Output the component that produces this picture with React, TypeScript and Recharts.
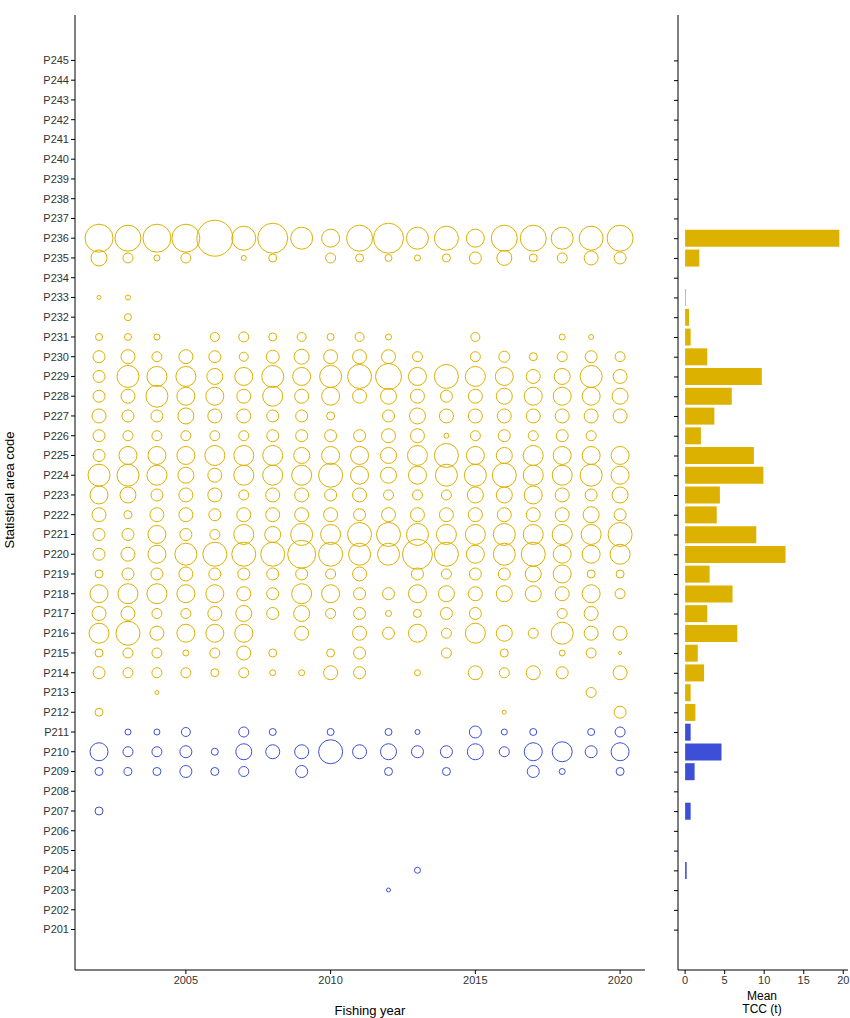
import { ScatterChart, Scatter, BarChart, Bar, XAxis, YAxis, Cell } from "recharts";

// statistical area codes, bottom to top
const codes = Array.from({ length: 45 }, (_, i) => `P${201 + i}`);
const years = [2002, 2003, 2004, 2005, 2006, 2007, 2008, 2009, 2010, 2011, 2012, 2013, 2014, 2015, 2016, 2017, 2018, 2019, 2020];

// estimated bubble radius (px) per area, one entry per fishing year
const goldRows: Record<string, number[]> = {
  P236: [14, 13, 14, 14, 18, 12, 15, 11, 9, 13, 15, 11, 12, 9, 13, 13, 11, 12, 13],
  P235: [8, 5, 3, 5, 0, 2.5, 4, 0, 5, 4, 3.5, 3, 4, 6, 7.5, 4, 5, 7, 6],
  P233: [2, 2.5, 0, 0, 0, 0, 0, 0, 0, 0, 0, 0, 0, 0, 0, 0, 0, 0, 0],
  P232: [0, 3.5, 0, 0, 0, 0, 0, 0, 0, 0, 0, 0, 0, 0, 0, 0, 0, 0, 0],
  P231: [3.5, 3.5, 3, 0, 4.5, 5, 4, 4.5, 3.5, 4.5, 3, 0, 0, 4.5, 0, 0, 3, 2.5, 0],
  P230: [6, 7, 5, 7, 6, 4.5, 6.5, 7.5, 7, 7, 7, 5, 0, 5, 5.5, 4, 5, 6, 5],
  P229: [6, 11, 10, 10, 8, 9, 11, 9, 11, 12, 13, 9, 12, 10, 9, 7, 8, 11, 7],
  P228: [6, 7, 11, 9, 9, 7, 10, 7, 9, 7, 8, 7, 6, 7, 8, 9, 9, 9, 8],
  P227: [7, 6, 6, 8, 7, 7, 6, 6, 4, 0, 6, 8, 7, 7, 7, 7, 7, 7, 7],
  P226: [6, 5, 5, 5, 5, 5, 6, 6, 6, 6, 7, 7, 2.5, 5, 6, 5, 6, 5, 0],
  P225: [6, 9, 9, 9, 10, 10, 10, 8, 9, 9, 8, 10, 12, 9, 8, 10, 9, 9, 9],
  P224: [11, 11, 10, 8, 7, 10, 10, 10, 12, 9, 8, 9, 11, 11, 12, 10, 10, 11, 9],
  P223: [9, 8, 6, 7, 7, 5, 7, 7, 6, 7, 5, 5, 5, 8, 8, 9, 7, 6, 8],
  P222: [7, 4, 7, 7, 6, 7, 7, 7, 7, 6, 7, 7, 7, 7, 7, 7, 7, 8, 6],
  P221: [6, 6, 9, 6, 5, 10, 8, 11, 10, 12, 12, 11, 10, 10, 11, 10, 10, 10, 12],
  P220: [6, 7, 9, 11, 12, 12, 12, 14, 12, 11, 11, 15, 12, 9, 11, 12, 9, 9, 10],
  P219: [4, 6, 6, 7, 6, 6, 6, 6, 5, 7, 0, 6, 5, 6, 6, 8, 9, 4, 4],
  P218: [9, 10, 10, 9, 9, 7, 6, 10, 9, 6, 6, 9, 8, 7, 8, 8, 7, 9, 5],
  P217: [7, 7, 5, 5, 7, 8, 6, 8, 5, 6, 3, 4, 6, 6, 0, 0, 5, 7, 0],
  P216: [10, 12, 7, 9, 9, 9, 0, 7, 0, 7, 6, 9, 5, 10, 8, 5, 11, 7, 7],
  P215: [4, 5, 5, 3, 5, 7, 4, 0, 4, 6, 0, 0, 5, 0, 4, 0, 3, 5, 1.5],
  P214: [6, 5, 5, 5, 4, 5, 3, 3, 7, 6, 0, 3, 0, 7, 5, 7, 6, 0, 7],
  P213: [0, 0, 2, 0, 0, 0, 0, 0, 0, 0, 0, 0, 0, 0, 0, 0, 0, 5, 0],
  P212: [4, 0, 0, 0, 0, 0, 0, 0, 0, 0, 0, 0, 0, 0, 2, 0, 0, 0, 6],
};
const blueRows: Record<string, number[]> = {
  P211: [0, 3, 3, 4.5, 0, 5, 3.5, 0, 3.5, 0, 3.5, 2.5, 0, 6, 3, 3.5, 0, 3.5, 5],
  P210: [9, 5, 5, 6, 3.5, 8, 7, 7, 12, 7, 8, 6, 6, 8, 5, 9, 10, 6, 9],
  P209: [4, 4, 4, 6, 4, 5, 0, 6, 0, 0, 4, 0, 4, 0, 0, 6, 3, 0, 4],
  P207: [4, 0, 0, 0, 0, 0, 0, 0, 0, 0, 0, 0, 0, 0, 0, 0, 0, 0, 0],
  P204: [0, 0, 0, 0, 0, 0, 0, 0, 0, 0, 0, 3, 0, 0, 0, 0, 0, 0, 0],
  P203: [0, 0, 0, 0, 0, 0, 0, 0, 0, 0, 2, 0, 0, 0, 0, 0, 0, 0, 0],
};

// mean TCC (t) per area
const meanTcc: Record<string, number> = {
  P236: 19.5, P235: 1.8, P233: 0.1, P232: 0.5, P231: 0.7, P230: 2.8, P229: 9.7, P228: 5.9,
  P227: 3.7, P226: 2.0, P225: 8.7, P224: 9.9, P223: 4.4, P222: 4.0, P221: 9.0, P220: 12.7,
  P219: 3.1, P218: 6.0, P217: 2.8, P216: 6.6, P215: 1.6, P214: 2.4, P213: 0.7, P212: 1.3,
  P211: 0.7, P210: 4.6, P209: 1.2, P207: 0.7, P204: 0.2,
};

const GOLD = "#DDB100";
const BLUE = "#3D4FD6";
const FONT = "'Liberation Sans', Arial, sans-serif";

const toPoints = (rows: Record<string, number[]>) =>
  Object.entries(rows).flatMap(([code, rs]) =>
    rs.map((r, i) => ({ year: years[i], idx: codes.indexOf(code) + 1, r })).filter((p) => p.r > 0)
  );
const goldPts = toPoints(goldRows);
const bluePts = toPoints(blueRows);

const barData = [...codes].reverse().map((c) => ({
  code: c,
  tcc: meanTcc[c] ?? 0,
  blue: Number(c.slice(1)) <= 211,
}));

const circle = (color: string) => (p: any) =>
  <circle cx={p.cx} cy={p.cy} r={p.payload.r} fill="none" stroke={color} strokeWidth={1} />;

const tick = { fontSize: 11, fill: "#333", fontFamily: FONT };

export default function App() {
  return (
    <div style={{ position: "absolute", left: 0, top: 0, width: 850, height: 1018, background: "#fff", fontFamily: FONT }}>
      <div style={{ position: "absolute", left: 0, top: 0 }}>
        <ScatterChart width={660} height={1018} margin={{ top: 15, right: 15, left: 0, bottom: 18 }}>
          <XAxis type="number" dataKey="year" domain={[2001.17, 2020.86]} ticks={[2005, 2010, 2015, 2020]}
            tick={tick} stroke="#000" tickSize={4} height={30} allowDataOverflow />
          <YAxis type="number" dataKey="idx" domain={[-1.05, 47.3]} ticks={codes.map((_, i) => i + 1)}
            tickFormatter={(v) => codes[v - 1]} interval={0} tick={tick} stroke="#000" tickSize={4} width={75} allowDataOverflow />
          <Scatter data={goldPts} shape={circle(GOLD)} isAnimationActive={false} />
          <Scatter data={bluePts} shape={circle(BLUE)} isAnimationActive={false} />
        </ScatterChart>
      </div>
      <div style={{ position: "absolute", left: 660, top: 0 }}>
        <BarChart width={190} height={1018} layout="vertical" data={barData}
          margin={{ top: 15, right: 2, left: 0, bottom: 18 }} barCategoryGap={1}>
          <XAxis type="number" domain={[-0.9, 20.6]} ticks={[0, 5, 10, 15, 20]} tick={tick}
            stroke="#000" tickSize={4} height={30} allowDataOverflow />
          <YAxis type="category" dataKey="code" width={18} tickFormatter={() => ""} stroke="#000" tickSize={4}
            padding={{ top: 36, bottom: 30 }} interval={0} />
          <Bar dataKey="tcc" isAnimationActive={false} barSize={17}>
            {barData.map((d, i) => <Cell key={i} fill={d.blue ? BLUE : GOLD} />)}
          </Bar>
        </BarChart>
      </div>
      <div style={{ position: "absolute", left: 9, top: 490, width: 0, whiteSpace: "nowrap", fontSize: 13 }}>
        <span style={{ position: "absolute", transform: "translate(-50%, -50%) rotate(-90deg)", left: 0, top: 0 }}>Statistical area code</span>
      </div>
      <div style={{ position: "absolute", left: 310, top: 1003, width: 120, textAlign: "center", fontSize: 13 }}>Fishing year</div>
      <div style={{ position: "absolute", left: 722, top: 990, width: 80, textAlign: "center", fontSize: 12, lineHeight: "13px" }}>Mean<br />TCC (t)</div>
    </div>
  );
}
